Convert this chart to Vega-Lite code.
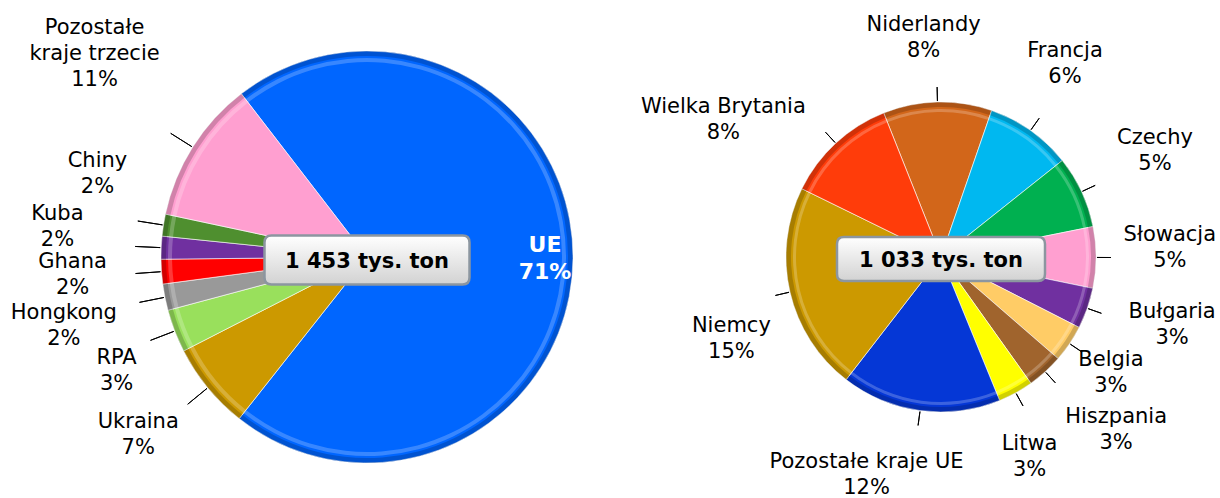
{
  "$schema": "https://vega.github.io/schema/vega-lite/v6.json",
  "autosize": {"type": "pad"},
  "padding": {"left": 0, "top": 13, "right": 0, "bottom": 0},
  "background": "white",
  "spacing": 0,
  "bounds": "flush",
  "config": {"view": {"stroke": null}, "text": {"font": "DejaVu Sans"}},
  "resolve": {"scale": {"theta": "independent", "color": "independent"}},
  "hconcat": [
    {
      "width": 734,
      "height": 478,
      "data": {"values": [
        {"lp": 1, "kraj": "UE", "tys": 1033},
        {"lp": 2, "kraj": "Ukraina", "tys": 99},
        {"lp": 3, "kraj": "RPA", "tys": 49},
        {"lp": 4, "kraj": "Hongkong", "tys": 30},
        {"lp": 5, "kraj": "Ghana", "tys": 28},
        {"lp": 6, "kraj": "Kuba", "tys": 26},
        {"lp": 7, "kraj": "Chiny", "tys": 25},
        {"lp": 8, "kraj": "Pozostałe kraje trzecie", "tys": 163}
      ]},
      "transform": [
        {"joinaggregate": [{"op": "sum", "field": "tys", "as": "suma"}]},
        {"stack": "tys", "groupby": [], "sort": [{"field": "lp", "order": "ascending"}], "as": ["t0", "t1"]},
        {"calculate": "(datum.t0 + datum.t1) / 2", "as": "mid"},
        {"calculate": "replace(datum.kraj, 'Pozostałe ', 'Pozostałe\\n') + '\\n' + format(datum.tys / datum.suma, '.0%')", "as": "etykieta"}
      ],
      "layer": [
        {
          "mark": {"type": "arc", "radius": 206, "stroke": "#ffffff", "strokeWidth": 1, "strokeOpacity": 0.6},
          "encoding": {
            "theta": {"field": "t0", "type": "quantitative", "stack": null, "scale": {"domain": [0, 1453], "range": [5.627, 11.9102], "zero": true, "nice": false}},
            "theta2": {"field": "t1"},
            "color": {"field": "kraj", "type": "nominal", "legend": null, "scale": {
              "domain": ["UE", "Ukraina", "RPA", "Hongkong", "Ghana", "Kuba", "Chiny", "Pozostałe kraje trzecie"],
              "range": ["#0066FF", "#CC9900", "#99E05C", "#999999", "#FF0000", "#7030A0", "#4F8F2F", "#FF9FD0"]}}
          }
        },
        {
          "mark": {"type": "arc", "radius": 206, "radius2": 201, "color": "#000000", "opacity": 0.18},
          "encoding": {"theta": {"field": "t0", "type": "quantitative", "stack": null}, "theta2": {"field": "t1"}}
        },
        {
          "mark": {"type": "arc", "radius": 199, "radius2": 195, "color": "#ffffff", "opacity": 0.22},
          "encoding": {"theta": {"field": "t0", "type": "quantitative", "stack": null}, "theta2": {"field": "t1"}}
        },
        {
          "transform": [{"filter": "datum.kraj != 'UE'"}],
          "mark": {"type": "arc", "radius": 232, "radius2": 207, "fillOpacity": 0, "stroke": "#000000", "strokeWidth": 1},
          "encoding": {"theta": {"field": "mid", "type": "quantitative", "stack": null}, "theta2": {"field": "mid"}}
        },
        {
          "transform": [{"filter": "datum.kraj == 'UE'"}],
          "mark": {"type": "text", "fontSize": 22, "fontWeight": "bold", "lineBreak": "\n", "lineHeight": 27, "align": "center", "baseline": "middle", "color": "#ffffff", "dy": -13},
          "encoding": {"theta": {"field": "mid", "type": "quantitative", "stack": null}, "radius": {"value": 178}, "text": {"field": "etykieta"}}
        },
        {
          "transform": [{"filter": "datum.kraj == 'Ukraina'"}],
          "mark": {"type": "text", "fontSize": 21, "lineBreak": "\n", "lineHeight": 26, "align": "center", "baseline": "middle", "color": "#000000", "thetaOffset": 0.0257, "dy": -13},
          "encoding": {"theta": {"field": "mid", "type": "quantitative", "stack": null}, "radius": {"value": 290}, "text": {"field": "etykieta"}}
        },
        {
          "transform": [{"filter": "datum.kraj == 'RPA'"}],
          "mark": {"type": "text", "fontSize": 21, "lineBreak": "\n", "lineHeight": 26, "align": "center", "baseline": "middle", "color": "#000000", "thetaOffset": -0.0586, "dy": -13},
          "encoding": {"theta": {"field": "mid", "type": "quantitative", "stack": null}, "radius": {"value": 275}, "text": {"field": "etykieta"}}
        },
        {
          "transform": [{"filter": "datum.kraj == 'Hongkong'"}],
          "mark": {"type": "text", "fontSize": 21, "lineBreak": "\n", "lineHeight": 26, "align": "center", "baseline": "middle", "color": "#000000", "thetaOffset": -0.0284, "dy": -13},
          "encoding": {"theta": {"field": "mid", "type": "quantitative", "stack": null}, "radius": {"value": 311}, "text": {"field": "etykieta"}}
        },
        {
          "transform": [{"filter": "datum.kraj == 'Ghana'"}],
          "mark": {"type": "text", "fontSize": 21, "lineBreak": "\n", "lineHeight": 26, "align": "center", "baseline": "middle", "color": "#000000", "thetaOffset": 0.0103, "dy": -13},
          "encoding": {"theta": {"field": "mid", "type": "quantitative", "stack": null}, "radius": {"value": 295}, "text": {"field": "etykieta"}}
        },
        {
          "transform": [{"filter": "datum.kraj == 'Kuba'"}],
          "mark": {"type": "text", "fontSize": 21, "lineBreak": "\n", "lineHeight": 26, "align": "center", "baseline": "middle", "color": "#000000", "thetaOffset": 0.0511, "dy": -13},
          "encoding": {"theta": {"field": "mid", "type": "quantitative", "stack": null}, "radius": {"value": 311}, "text": {"field": "etykieta"}}
        },
        {
          "transform": [{"filter": "datum.kraj == 'Chiny'"}],
          "mark": {"type": "text", "fontSize": 21, "lineBreak": "\n", "lineHeight": 26, "align": "center", "baseline": "middle", "color": "#000000", "thetaOffset": 0.1426, "dy": -13},
          "encoding": {"theta": {"field": "mid", "type": "quantitative", "stack": null}, "radius": {"value": 282}, "text": {"field": "etykieta"}}
        },
        {
          "transform": [{"filter": "datum.kraj == 'Pozostałe kraje trzecie'"}],
          "mark": {"type": "text", "fontSize": 21, "lineBreak": "\n", "lineHeight": 26, "align": "center", "baseline": "middle", "color": "#000000", "thetaOffset": 0.0792, "dy": -26},
          "encoding": {"theta": {"field": "mid", "type": "quantitative", "stack": null}, "radius": {"value": 340}, "text": {"field": "etykieta"}}
        },
        {
          "transform": [{"aggregate": [{"op": "sum", "field": "tys", "as": "razem"}]}],
          "mark": {"type": "point", "shape": "M-0.932,-0.239L0.932,-0.239Q1,-0.239 1,-0.171L1,0.171Q1,0.239 0.932,0.239L-0.932,0.239Q-1,0.239 -1,0.171L-1,-0.171Q-1,-0.239 -0.932,-0.239Z", "size": 42025, "filled": true, "opacity": 1,
            "fill": {"gradient": "linear", "x1": 0, "y1": 0, "x2": 0, "y2": 1, "stops": [{"offset": 0, "color": "#ffffff"}, {"offset": 1, "color": "#d2d2d2"}]},
            "stroke": "#8c96a0", "strokeWidth": 2.5, "yOffset": 3},
          "encoding": {}
        },
        {
          "transform": [
            {"aggregate": [{"op": "sum", "field": "tys", "as": "razem"}]},
            {"calculate": "replace(format(datum.razem, ','), ',', ' ') + ' tys. ton'", "as": "napis"}
          ],
          "mark": {"type": "text", "fontSize": 21, "fontWeight": "bold", "color": "#000000", "align": "center", "baseline": "middle", "dy": 5},
          "encoding": {"text": {"field": "napis"}}
        }
      ]
    },
    {
      "width": 414,
      "height": 478,
      "data": {"values": [
        {"lp": 1, "kraj": "Niderlandy", "tys": 117},
        {"lp": 2, "kraj": "Francja", "tys": 93},
        {"lp": 3, "kraj": "Czechy", "tys": 78},
        {"lp": 4, "kraj": "Słowacja", "tys": 66},
        {"lp": 5, "kraj": "Bułgaria", "tys": 44},
        {"lp": 6, "kraj": "Belgia", "tys": 40},
        {"lp": 7, "kraj": "Hiszpania", "tys": 39},
        {"lp": 8, "kraj": "Litwa", "tys": 38},
        {"lp": 9, "kraj": "Pozostałe kraje UE", "tys": 172},
        {"lp": 10, "kraj": "Niemcy", "tys": 225},
        {"lp": 11, "kraj": "Wielka Brytania", "tys": 121}
      ]},
      "transform": [
        {"stack": "tys", "groupby": [], "sort": [{"field": "lp", "order": "ascending"}], "as": ["t0", "t1"]},
        {"calculate": "(datum.t0 + datum.t1) / 2", "as": "mid"},
        {"calculate": "datum.kraj + '\\n' + format(datum.tys / 1453, '.0%')", "as": "etykieta"}
      ],
      "layer": [
        {
          "mark": {"type": "arc", "radius": 155, "stroke": "#ffffff", "strokeWidth": 1, "strokeOpacity": 0.6},
          "encoding": {
            "theta": {"field": "t0", "type": "quantitative", "stack": null, "scale": {"domain": [0, 1033], "range": [5.9045, 12.1877], "zero": true, "nice": false}},
            "theta2": {"field": "t1"},
            "color": {"field": "kraj", "type": "nominal", "legend": null, "scale": {
              "domain": ["Niderlandy", "Francja", "Czechy", "Słowacja", "Bułgaria", "Belgia", "Hiszpania", "Litwa", "Pozostałe kraje UE", "Niemcy", "Wielka Brytania"],
              "range": ["#D2661A", "#00B8F0", "#00B050", "#FF9FD0", "#7030A0", "#FFCC66", "#A0642D", "#FFFF00", "#0537D6", "#CC9900", "#FF3C0A"]}}
          }
        },
        {
          "mark": {"type": "arc", "radius": 155, "radius2": 150, "color": "#000000", "opacity": 0.18},
          "encoding": {"theta": {"field": "t0", "type": "quantitative", "stack": null}, "theta2": {"field": "t1"}}
        },
        {
          "mark": {"type": "arc", "radius": 148, "radius2": 145, "color": "#ffffff", "opacity": 0.22},
          "encoding": {"theta": {"field": "t0", "type": "quantitative", "stack": null}, "theta2": {"field": "t1"}}
        },
        {
          "mark": {"type": "arc", "radius": 170, "radius2": 156, "fillOpacity": 0, "stroke": "#000000", "strokeWidth": 1},
          "encoding": {"theta": {"field": "mid", "type": "quantitative", "stack": null}, "theta2": {"field": "mid"}}
        },
        {
          "transform": [{"filter": "datum.kraj == 'Niderlandy'"}],
          "mark": {"type": "text", "fontSize": 21, "lineBreak": "\n", "lineHeight": 26, "align": "center", "baseline": "middle", "color": "#000000", "thetaOffset": -0.0565, "dy": -13},
          "encoding": {"theta": {"field": "mid", "type": "quantitative", "stack": null}, "radius": {"value": 220}, "text": {"field": "etykieta"}}
        },
        {
          "transform": [{"filter": "datum.kraj == 'Francja'"}],
          "mark": {"type": "text", "fontSize": 21, "lineBreak": "\n", "lineHeight": 26, "align": "center", "baseline": "middle", "color": "#000000", "thetaOffset": -0.0435, "dy": -13},
          "encoding": {"theta": {"field": "mid", "type": "quantitative", "stack": null}, "radius": {"value": 229}, "text": {"field": "etykieta"}}
        },
        {
          "transform": [{"filter": "datum.kraj == 'Czechy'"}],
          "mark": {"type": "text", "fontSize": 21, "lineBreak": "\n", "lineHeight": 26, "align": "center", "baseline": "middle", "color": "#000000", "thetaOffset": -0.0267, "dy": -13},
          "encoding": {"theta": {"field": "mid", "type": "quantitative", "stack": null}, "radius": {"value": 239}, "text": {"field": "etykieta"}}
        },
        {
          "transform": [{"filter": "datum.kraj == 'Słowacja'"}],
          "mark": {"type": "text", "fontSize": 21, "lineBreak": "\n", "lineHeight": 26, "align": "center", "baseline": "middle", "color": "#000000", "thetaOffset": -0.0443, "dy": -13},
          "encoding": {"theta": {"field": "mid", "type": "quantitative", "stack": null}, "radius": {"value": 229}, "text": {"field": "etykieta"}}
        },
        {
          "transform": [{"filter": "datum.kraj == 'Bułgaria'"}],
          "mark": {"type": "text", "fontSize": 21, "lineBreak": "\n", "lineHeight": 26, "align": "center", "baseline": "middle", "color": "#000000", "thetaOffset": -0.0497, "dy": -13},
          "encoding": {"theta": {"field": "mid", "type": "quantitative", "stack": null}, "radius": {"value": 241}, "text": {"field": "etykieta"}}
        },
        {
          "transform": [{"filter": "datum.kraj == 'Belgia'"}],
          "mark": {"type": "text", "fontSize": 21, "lineBreak": "\n", "lineHeight": 26, "align": "center", "baseline": "middle", "color": "#000000", "thetaOffset": 0.0079, "dy": -13},
          "encoding": {"theta": {"field": "mid", "type": "quantitative", "stack": null}, "radius": {"value": 206}, "text": {"field": "etykieta"}}
        },
        {
          "transform": [{"filter": "datum.kraj == 'Hiszpania'"}],
          "mark": {"type": "text", "fontSize": 21, "lineBreak": "\n", "lineHeight": 26, "align": "center", "baseline": "middle", "color": "#000000", "thetaOffset": -0.0548, "dy": -13},
          "encoding": {"theta": {"field": "mid", "type": "quantitative", "stack": null}, "radius": {"value": 246}, "text": {"field": "etykieta"}}
        },
        {
          "transform": [{"filter": "datum.kraj == 'Litwa'"}],
          "mark": {"type": "text", "fontSize": 21, "lineBreak": "\n", "lineHeight": 26, "align": "center", "baseline": "middle", "color": "#000000", "thetaOffset": 0.0871, "dy": -13},
          "encoding": {"theta": {"field": "mid", "type": "quantitative", "stack": null}, "radius": {"value": 219}, "text": {"field": "etykieta"}}
        },
        {
          "transform": [{"filter": "datum.kraj == 'Pozostałe kraje UE'"}],
          "mark": {"type": "text", "fontSize": 21, "lineBreak": "\n", "lineHeight": 26, "align": "center", "baseline": "middle", "color": "#000000", "thetaOffset": 0.1944, "dy": -13},
          "encoding": {"theta": {"field": "mid", "type": "quantitative", "stack": null}, "radius": {"value": 230}, "text": {"field": "etykieta"}}
        },
        {
          "transform": [{"filter": "datum.kraj == 'Niemcy'"}],
          "mark": {"type": "text", "fontSize": 21, "lineBreak": "\n", "lineHeight": 26, "align": "center", "baseline": "middle", "color": "#000000", "thetaOffset": -0.1436, "dy": -13},
          "encoding": {"theta": {"field": "mid", "type": "quantitative", "stack": null}, "radius": {"value": 225}, "text": {"field": "etykieta"}}
        },
        {
          "transform": [{"filter": "datum.kraj == 'Wielka Brytania'"}],
          "mark": {"type": "text", "fontSize": 21, "lineBreak": "\n", "lineHeight": 26, "align": "center", "baseline": "middle", "color": "#000000", "thetaOffset": -0.2634, "dy": -13},
          "encoding": {"theta": {"field": "mid", "type": "quantitative", "stack": null}, "radius": {"value": 257}, "text": {"field": "etykieta"}}
        },
        {
          "transform": [{"aggregate": [{"op": "sum", "field": "tys", "as": "razem"}]}],
          "mark": {"type": "point", "shape": "M-0.933,-0.2115L0.933,-0.2115Q1,-0.2115 1,-0.1445L1,0.1445Q1,0.2115 0.933,0.2115L-0.933,0.2115Q-1,0.2115 -1,0.1445L-1,-0.1445Q-1,-0.2115 -0.933,-0.2115Z", "size": 43264, "filled": true, "opacity": 1,
            "fill": {"gradient": "linear", "x1": 0, "y1": 0, "x2": 0, "y2": 1, "stops": [{"offset": 0, "color": "#ffffff"}, {"offset": 1, "color": "#d2d2d2"}]},
            "stroke": "#8c96a0", "strokeWidth": 2.5, "yOffset": 2},
          "encoding": {}
        },
        {
          "transform": [
            {"aggregate": [{"op": "sum", "field": "tys", "as": "razem"}]},
            {"calculate": "replace(format(datum.razem, ','), ',', ' ') + ' tys. ton'", "as": "napis"}
          ],
          "mark": {"type": "text", "fontSize": 21, "fontWeight": "bold", "color": "#000000", "align": "center", "baseline": "middle", "dy": 4},
          "encoding": {"text": {"field": "napis"}}
        }
      ]
    }
  ]
}
